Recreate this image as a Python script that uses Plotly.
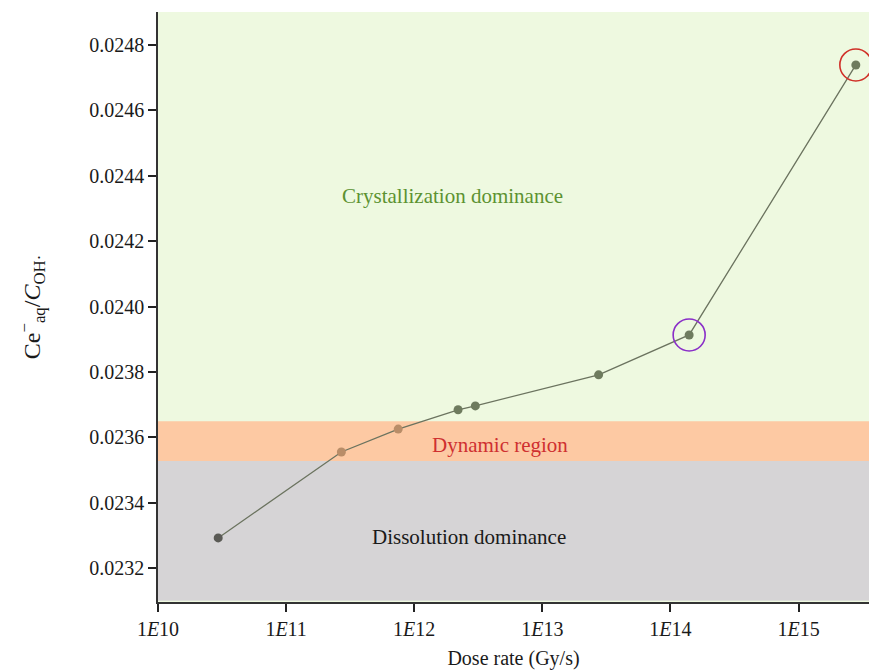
import plotly.graph_objects as go

dose_rate = [2.95e10, 2.7e11, 7.5e11, 2.2e12, 3.0e12, 2.75e13, 1.4e14, 2.8e15]
ratio = [0.023292, 0.023555, 0.023625, 0.023684, 0.023696, 0.023791, 0.023913, 0.024739]
point_colors = ["#5a5a55", "#b98d68", "#b98d68", "#6e7b5e", "#6e7b5e", "#6e7b5e", "#6e7b5e", "#6e7b5e"]

x_ticks = [1e10, 1e11, 1e12, 1e13, 1e14, 1e15]
x_ticktext = ["1<i>E</i>10", "1<i>E</i>11", "1<i>E</i>12", "1<i>E</i>13", "1<i>E</i>14", "1<i>E</i>15"]
y_ticks = [0.0232, 0.0234, 0.0236, 0.0238, 0.0240, 0.0242, 0.0244, 0.0246, 0.0248]
y_ticktext = ["%.4f" % v for v in y_ticks]

dissolution_top = 0.023527
dynamic_top = 0.023649

FONT = "Liberation Serif"

fig = go.Figure()
fig.add_trace(go.Scatter(
    x=dose_rate, y=ratio, mode="lines+markers",
    line=dict(color="#6b735f", width=1.3),
    marker=dict(size=9, color=point_colors),
    showlegend=False, hoverinfo="skip"))
fig.add_trace(go.Scatter(
    x=[dose_rate[6]], y=[ratio[6]], mode="markers",
    marker=dict(size=32, symbol="circle-open", color="#8a2fc8", line=dict(width=1.6, color="#8a2fc8")),
    showlegend=False))
fig.add_trace(go.Scatter(
    x=[dose_rate[7]], y=[ratio[7]], mode="markers",
    marker=dict(size=32, symbol="circle-open", color="#d03028", line=dict(width=1.6, color="#d03028")),
    showlegend=False))

fig.add_shape(type="rect", xref="paper", yref="y", x0=0, x1=1, y0=0.0231, y1=dissolution_top,
              fillcolor="#d6d4d6", line=dict(width=0), layer="below")
fig.add_shape(type="rect", xref="paper", yref="y", x0=0, x1=1, y0=dissolution_top, y1=dynamic_top,
              fillcolor="#fdc9a3", line=dict(width=0), layer="below")

fig.add_annotation(x=12.30, y=0.024338, text="Crystallization dominance", showarrow=False,
                   font=dict(family=FONT, size=21, color="#5c9231"))
fig.add_annotation(x=12.67, y=0.023576, text="Dynamic region", showarrow=False,
                   font=dict(family=FONT, size=21, color="#cf3030"))
fig.add_annotation(x=12.43, y=0.023295, text="Dissolution dominance", showarrow=False,
                   font=dict(family=FONT, size=21, color="#1a1a1a"))

fig.update_layout(
    width=869, height=671,
    margin=dict(l=158, r=0, t=12, b=69),
    paper_bgcolor="white", plot_bgcolor="#eef9e0",
    font=dict(family=FONT, size=20, color="#1a1a1a"),
    xaxis=dict(type="log", range=[10, 15.55], tickvals=x_ticks, ticktext=x_ticktext,
               ticks="outside", ticklen=8, tickwidth=1.5, tickcolor="#222",
               showline=True, linecolor="#333", linewidth=1.5, showgrid=False, zeroline=False,
               title=dict(text="Dose rate (Gy/s)", font=dict(family=FONT, size=20), standoff=12),
               tickfont=dict(family=FONT, size=20)),
    yaxis=dict(range=[0.023096, 0.024901], tickvals=y_ticks, ticktext=y_ticktext,
               ticks="outside", ticklen=8, tickwidth=1.5, tickcolor="#222",
               showline=True, linecolor="#333", linewidth=1.5, showgrid=False, zeroline=False,
               title=dict(text="Ce<sup>−</sup><sub>aq</sub>/<i>C</i><sub>OH·</sub>", font=dict(family=FONT, size=24), standoff=42),
               tickfont=dict(family=FONT, size=20)),
)

fig.write_html("out.html")
